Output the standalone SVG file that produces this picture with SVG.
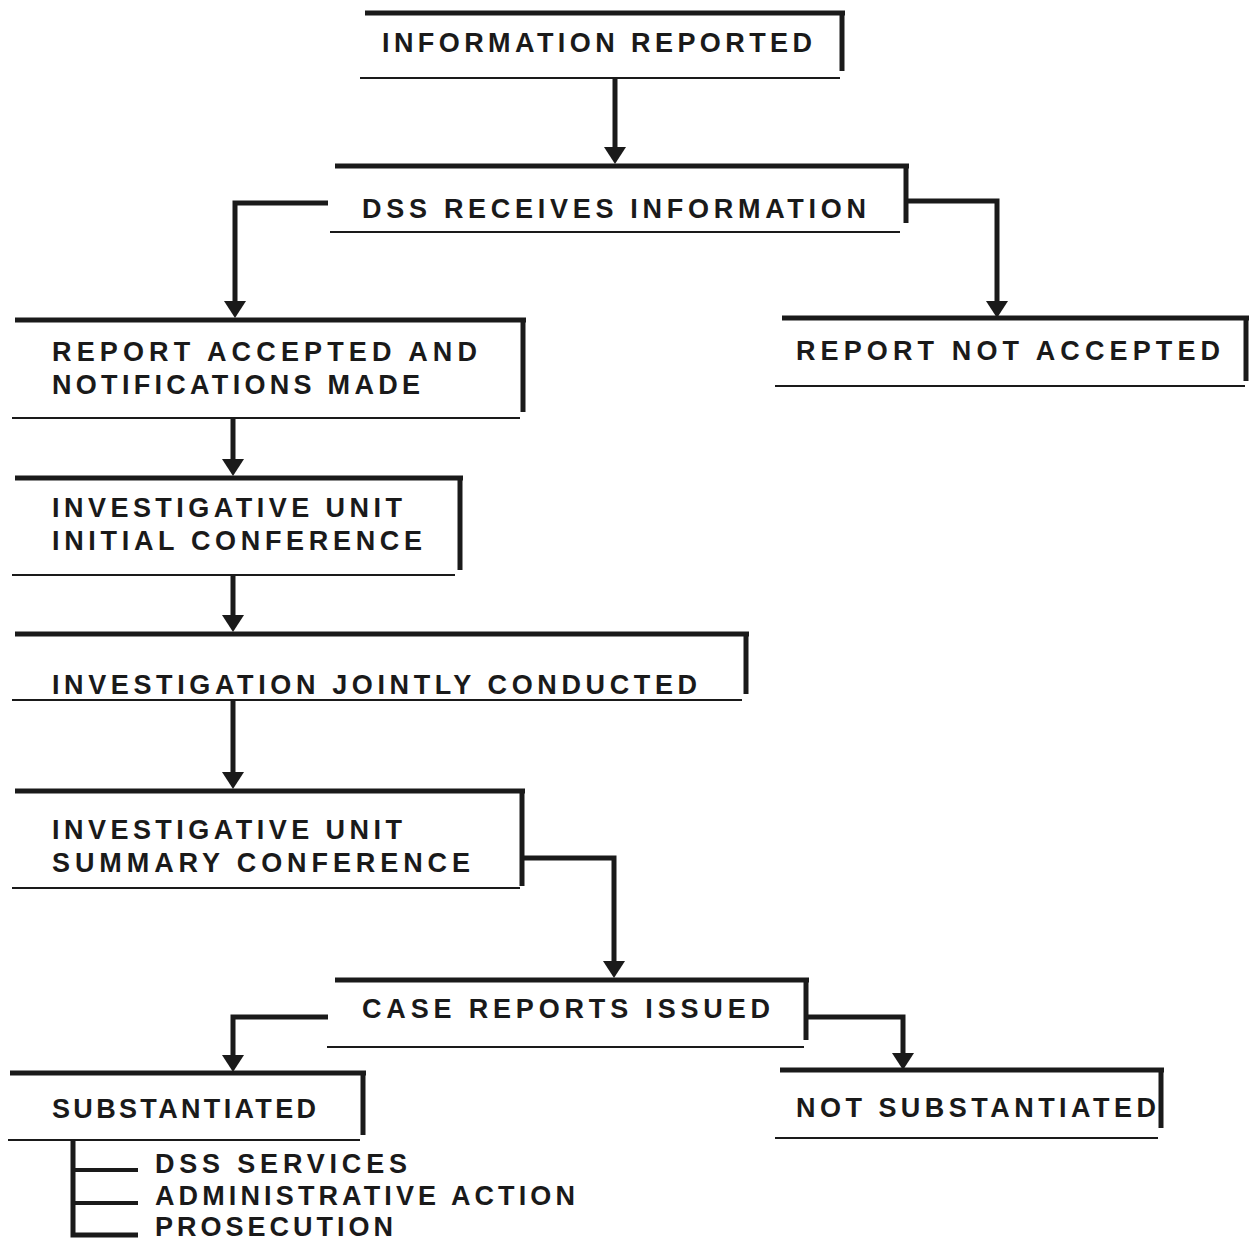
<svg xmlns="http://www.w3.org/2000/svg" width="1251" height="1241" viewBox="0 0 1251 1241">
<style>
.top{stroke:#1a1a1a;stroke-width:5;fill:none}
.rt{stroke:#1a1a1a;stroke-width:5;fill:none}
.bot{stroke:#1a1a1a;stroke-width:2;fill:none}
.conn{stroke:#1a1a1a;stroke-width:5;fill:none;stroke-linejoin:miter}
.tick{stroke:#1a1a1a;stroke-width:4;fill:none}
.ah{fill:#1a1a1a}
text{font-family:"Liberation Sans",Arial,sans-serif;font-size:27px;fill:#1a1a1a;font-weight:bold}
</style>
<rect width="1251" height="1241" fill="#fff"/>

<g id="connectors">
<path class="conn" d="M615,78 V150"/>
<polygon class="ah" points="604,147 626,147 615,164"/>
<path class="conn" d="M328,203 H235 V305"/>
<polygon class="ah" points="224,301 246,301 235,318"/>
<path class="conn" d="M906,201 H997 V305"/>
<polygon class="ah" points="986,301 1008,301 997,318"/>
<path class="conn" d="M233,418 V462"/>
<polygon class="ah" points="222,459 244,459 233,476"/>
<path class="conn" d="M233,575 V618"/>
<polygon class="ah" points="222,615 244,615 233,632"/>
<path class="conn" d="M233,700 V775"/>
<polygon class="ah" points="222,772 244,772 233,789"/>
<path class="conn" d="M522,858 H614 V963"/>
<polygon class="ah" points="603,961 625,961 614,978"/>
<path class="conn" d="M328,1017 H233 V1057"/>
<polygon class="ah" points="222,1055 244,1055 233,1072"/>
<path class="conn" d="M806,1017 H903 V1055"/>
<polygon class="ah" points="892,1053 914,1053 903,1070"/>
<path class="conn" d="M73,1140 V1235 H138"/>
<path class="tick" d="M73,1170 H138 M73,1203 H138"/>
</g>

<g id="n1">
<path class="top" d="M365,13 H845"/><path class="rt" d="M842,11 V71"/><path class="bot" d="M360,78 H840"/>
<text x="382" y="52" textLength="430" lengthAdjust="spacing">INFORMATION REPORTED</text>
</g>
<g id="n2">
<path class="top" d="M335,166 H909"/><path class="rt" d="M906,164 V223"/><path class="bot" d="M330,232 H900"/>
<text x="362" y="218" textLength="504" lengthAdjust="spacing">DSS RECEIVES INFORMATION</text>
</g>
<g id="n3">
<path class="top" d="M15,320 H526"/><path class="rt" d="M523,318 V412"/><path class="bot" d="M12,418 H520"/>
<text x="52" y="361" textLength="425" lengthAdjust="spacing">REPORT ACCEPTED AND</text>
<text x="52" y="394" textLength="368" lengthAdjust="spacing">NOTIFICATIONS MADE</text>
</g>
<g id="n4">
<path class="top" d="M782,318 H1249"/><path class="rt" d="M1246,316 V381"/><path class="bot" d="M775,386 H1245"/>
<text x="796" y="360" textLength="424" lengthAdjust="spacing">REPORT NOT ACCEPTED</text>
</g>
<g id="n5">
<path class="top" d="M15,478 H463"/><path class="rt" d="M460,476 V570"/><path class="bot" d="M12,575 H455"/>
<text x="52" y="517" textLength="350" lengthAdjust="spacing">INVESTIGATIVE UNIT</text>
<text x="52" y="550" textLength="370" lengthAdjust="spacing">INITIAL CONFERENCE</text>
</g>
<g id="n6">
<path class="top" d="M15,634 H749"/><path class="rt" d="M746,632 V694"/><path class="bot" d="M12,700 H742"/>
<text x="52" y="694" textLength="645" lengthAdjust="spacing">INVESTIGATION JOINTLY CONDUCTED</text>
</g>
<g id="n7">
<path class="top" d="M15,791 H525"/><path class="rt" d="M522,789 V886"/><path class="bot" d="M12,888 H520"/>
<text x="52" y="839" textLength="350" lengthAdjust="spacing">INVESTIGATIVE UNIT</text>
<text x="52" y="872" textLength="418" lengthAdjust="spacing">SUMMARY CONFERENCE</text>
</g>
<g id="n8">
<path class="top" d="M335,980 H809"/><path class="rt" d="M806,978 V1040"/><path class="bot" d="M327,1047 H804"/>
<text x="362" y="1018" textLength="408" lengthAdjust="spacing">CASE REPORTS ISSUED</text>
</g>
<g id="n9">
<path class="top" d="M10,1073 H366"/><path class="rt" d="M363,1071 V1135"/><path class="bot" d="M8,1140 H360"/>
<text x="52" y="1118" textLength="264" lengthAdjust="spacing">SUBSTANTIATED</text>
</g>
<g id="n10">
<path class="top" d="M780,1070 H1164"/><path class="rt" d="M1161,1068 V1128"/><path class="bot" d="M775,1138 H1158"/>
<text x="796" y="1117" textLength="360" lengthAdjust="spacing">NOT SUBSTANTIATED</text>
</g>
<g id="outcomes">
<text x="155" y="1173" textLength="252" lengthAdjust="spacing">DSS SERVICES</text>
<text x="155" y="1205" textLength="420" lengthAdjust="spacing">ADMINISTRATIVE ACTION</text>
<text x="155" y="1236" textLength="238" lengthAdjust="spacing">PROSECUTION</text>
</g>
</svg>
